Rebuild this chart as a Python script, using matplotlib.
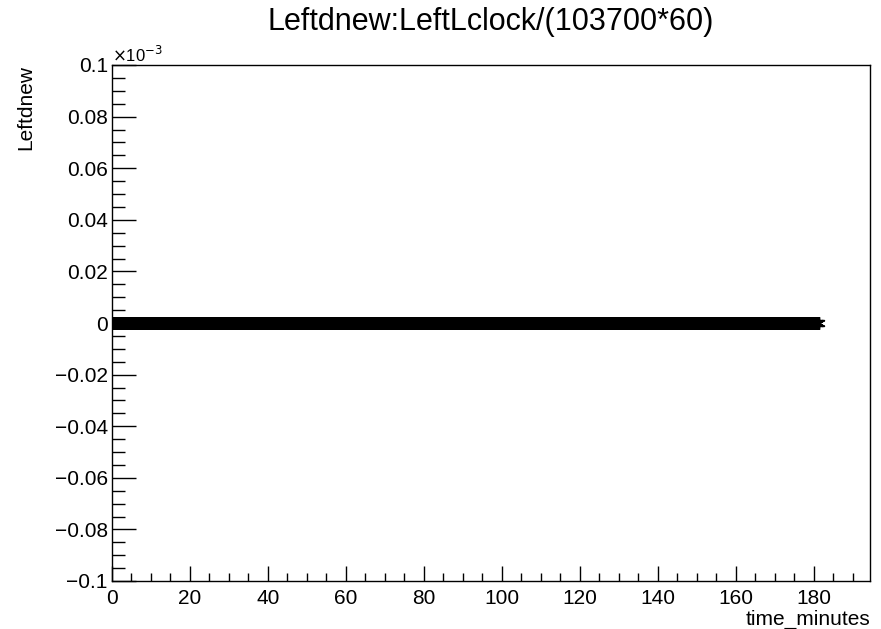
import matplotlib
matplotlib.use("Agg")
import matplotlib.pyplot as plt
import numpy as np
from matplotlib.ticker import MultipleLocator

plt.rcParams['font.family'] = ['Liberation Sans', 'DejaVu Sans']

# time samples (minutes) and Leftdnew values (in units of 1e-3)
t_start, t_end, n_samples = 0.0, 181.2, 1813
time_minutes = np.linspace(t_start, t_end, n_samples)
leftdnew = np.zeros(n_samples)

title = "Leftdnew:LeftLclock/(103700*60)"

fig = plt.figure(figsize=(8.81, 6.29), dpi=100)
ax = fig.add_axes([112/881, 1 - 581/629, (870-112)/881, (581-65)/629])

ax.plot(time_minutes, leftdnew, linestyle='none', marker=(6, 2, 0),
        markersize=9, color='black', markeredgewidth=1.0)

ax.set_xlim(0, 194.4)
ax.set_ylim(-0.1, 0.1)

# ROOT-style ticks: inside, on left/bottom only
ax.xaxis.set_major_locator(MultipleLocator(20))
ax.xaxis.set_minor_locator(MultipleLocator(5))
ax.yaxis.set_major_locator(MultipleLocator(0.02))
ax.yaxis.set_minor_locator(MultipleLocator(0.005))
ax.tick_params(axis='both', which='both', direction='in', labelsize=15,
               top=False, right=False, width=1)
ax.tick_params(axis='x', which='major', length=11, pad=6)
ax.tick_params(axis='x', which='minor', length=6)
ax.tick_params(axis='y', which='major', length=17, pad=3)
ax.tick_params(axis='y', which='minor', length=9)


def fmt(v, pos):
    v = round(v, 4) + 0.0
    return ('%g' % v).replace('-', '\u2212')


ax.yaxis.set_major_formatter(plt.FuncFormatter(fmt))
for s in ax.spines.values():
    s.set_linewidth(1)

ax.text(0.0, 1.0, r'$\times$10$^{-3}$', transform=ax.transAxes,
        ha='left', va='bottom', fontsize=12)

fig.text(491/881, 1 - 22/629, title, ha='center', va='center', fontsize=22)
ax.set_xlabel('time_minutes', fontsize=15, loc='right', labelpad=1)
ax.set_ylabel('Leftdnew', fontsize=15, loc='top', labelpad=14)

fig.savefig('out.png', dpi=100)
